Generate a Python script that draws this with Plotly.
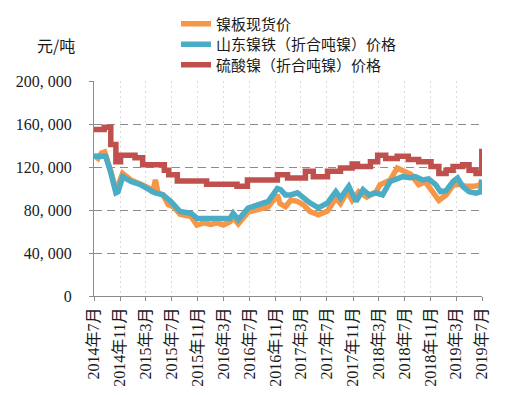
import plotly.graph_objects as go

# ---------------- data ----------------
tick_dates = ["2014-07-01", "2014-11-01", "2015-03-01", "2015-07-01", "2015-11-01",
              "2016-03-01", "2016-07-01", "2016-11-01", "2017-03-01", "2017-07-01",
              "2017-11-01", "2018-03-01", "2018-07-01", "2018-11-01", "2019-03-01",
              "2019-07-01"]
tick_labels = ["2014年7月", "2014年11月", "2015年3月", "2015年7月", "2015年11月",
               "2016年3月", "2016年7月", "2016年11月", "2017年3月", "2017年7月",
               "2017年11月", "2018年3月", "2018年7月", "2018年11月", "2019年3月",
               "2019年7月"]
y_ticks = [0, 40000, 80000, 120000, 160000, 200000]
y_tick_labels = ["0", "40, 000", "80, 000", "120, 000", "160, 000", "200, 000"]

series_names = ["镍板现货价", "山东镍铁（折合吨镍）价格", "硫酸镍（折合吨镍）价格"]

# 镍板现货价
orange_dates = ["2014-07-01", "2014-07-20", "2014-08-05", "2014-08-20", "2014-09-18", "2014-10-12",
                "2014-11-13", "2014-12-22", "2015-02-06", "2015-03-20", "2015-04-03", "2015-04-16",
                "2015-04-28", "2015-05-22", "2015-06-15", "2015-07-10", "2015-08-10", "2015-10-01",
                "2015-10-28", "2015-12-01", "2016-01-01", "2016-02-01", "2016-03-01", "2016-04-01",
                "2016-04-16", "2016-05-10", "2016-06-25", "2016-08-22", "2016-09-28", "2016-11-10",
                "2016-11-22", "2016-12-18", "2017-01-12", "2017-02-12", "2017-03-12", "2017-04-12",
                "2017-05-22", "2017-07-04", "2017-08-12", "2017-09-03", "2017-10-05", "2017-10-28",
                "2017-11-28", "2018-01-05", "2018-02-18", "2018-03-08", "2018-04-25", "2018-05-28",
                "2018-07-01", "2018-08-01", "2018-09-06", "2018-10-08", "2018-11-10", "2018-12-10",
                "2019-01-13", "2019-02-15", "2019-03-15", "2019-04-15", "2019-05-20", "2019-06-20",
                "2019-07-01"]
orange_vals = [131000, 128000, 133000, 134000, 116000, 98000,
               114000, 108000, 104000, 100000, 96000, 108000,
               96000, 94000, 85000, 83000, 76000, 74000,
               66000, 68000, 66500, 68000, 66000, 69000,
               73000, 67000, 78000, 81000, 83000, 94000,
               86000, 83000, 89000, 88000, 85000, 78600,
               75500, 79000, 91000, 86000, 97000, 89000,
               97000, 92000, 97000, 103500, 108000, 119000,
               116000, 113000, 103500, 106000, 97000, 89000,
               94000, 103000, 104000, 102000, 102000, 103000,
               108000]

# 山东镍铁（折合吨镍）价格
blue_dates = ["2014-07-01", "2014-08-25", "2014-09-18", "2014-10-12", "2014-10-22", "2014-11-13",
              "2014-12-22", "2015-02-06", "2015-03-20", "2015-04-13", "2015-05-22", "2015-06-28",
              "2015-08-10", "2015-10-01", "2015-10-28", "2016-04-01", "2016-04-16", "2016-05-10",
              "2016-06-25", "2016-08-22", "2016-09-28", "2016-11-10", "2016-11-25", "2016-12-18",
              "2017-01-12", "2017-02-12", "2017-03-12", "2017-04-12", "2017-05-22", "2017-07-04",
              "2017-08-12", "2017-09-03", "2017-10-12", "2017-11-15", "2017-12-18", "2018-01-15",
              "2018-02-18", "2018-03-20", "2018-04-25", "2018-05-10", "2018-06-22", "2018-07-28",
              "2018-08-22", "2018-09-25", "2018-10-22", "2018-11-25", "2018-12-18", "2019-01-13",
              "2019-02-15", "2019-03-08", "2019-04-01", "2019-05-01", "2019-06-03", "2019-06-25",
              "2019-07-01"]
blue_vals = [130000, 130000, 114600, 96000, 97000, 111000,
             106500, 103500, 98800, 96000, 94000, 88000,
             78600, 77000, 72400, 72000, 77000, 71000,
             81700, 84800, 88000, 100000, 99000, 94000,
             94000, 96000, 91000, 86700, 82000, 86700,
             97000, 91000, 102000, 88000, 98800, 94000,
             96000, 94000, 106500, 108000, 111000, 110000,
             111000, 108000, 109000, 103500, 97000, 98000,
             106500, 109700, 102000, 97000, 95700, 97000,
             108000]

# 硫酸镍（折合吨镍）价格
red_dates = ["2014-07-01", "2014-08-18", "2014-09-18", "2014-10-12", "2014-11-03", "2015-01-10",
             "2015-02-15", "2015-05-28", "2015-06-18", "2015-07-28", "2015-12-13", "2016-05-04",
             "2016-06-22", "2016-11-10", "2016-12-28", "2017-03-22", "2017-04-28", "2017-07-04",
             "2017-09-03", "2017-10-28", "2017-11-22", "2018-01-22", "2018-02-25", "2018-04-04",
             "2018-05-28", "2018-07-19", "2018-09-06", "2018-11-03", "2018-12-10", "2019-01-13",
             "2019-02-15", "2019-04-01", "2019-05-01", "2019-06-03", "2019-06-30", "2019-07-01"]
red_vals = [155000, 157000, 141000, 125000, 131000, 128600,
            122000, 117000, 112800, 107000, 104000, 102000,
            108000, 112800, 109700, 116000, 111000, 116000,
            119000, 122700, 120500, 125000, 131000, 128000,
            130000, 127000, 125000, 120500, 114000, 117000,
            120500, 122000, 117000, 114000, 134500, 134500]

colors = ["#F79646", "#4BACC6", "#C0504D"]

# ---------------- figure ----------------
fig = go.Figure()
fig.add_trace(go.Scatter(x=orange_dates, y=orange_vals, name=series_names[0], mode="lines",
                         line=dict(color=colors[0], width=5.5), legend="legend"))
fig.add_trace(go.Scatter(x=blue_dates, y=blue_vals, name=series_names[1], mode="lines",
                         line=dict(color=colors[1], width=5.5), legend="legend2"))
fig.add_trace(go.Scatter(x=red_dates, y=red_vals, name=series_names[2], mode="lines",
                         line=dict(color=colors[2], width=5.5, shape="hv"), legend="legend3"))

num_font = "'Liberation Serif', 'Noto Sans CJK SC', serif"
cjk_font = "'Noto Sans CJK SC', sans-serif"

L, R, T, B = 94, 27, 81, 100
W, H = 509, 396
pw, ph = W - L - R, H - T - B

def px_x(x):
    return (x - L) / pw

def px_y(y):
    return (H - B - y) / ph

def legend_at(row_y):
    return dict(x=px_x(176), y=px_y(row_y), xanchor="left", yanchor="middle",
                font=dict(family=cjk_font, size=15, color="#1a1a1a"),
                bgcolor="rgba(0,0,0,0)")

fig.update_layout(
    width=W, height=H,
    margin=dict(l=L, r=R, t=T, b=B, autoexpand=False),
    paper_bgcolor="white", plot_bgcolor="white",
    showlegend=True,
    legend=legend_at(24),
    legend2=legend_at(44.5),
    legend3=legend_at(65),
    annotations=[dict(text="元/吨", x=px_x(56), y=px_y(45), xref="paper", yref="paper",
                      xanchor="center", yanchor="middle", showarrow=False,
                      font=dict(family=cjk_font, size=16, color="#1a1a1a"))],
)

fig.update_xaxes(
    type="date",
    range=[tick_dates[0], tick_dates[-1]],
    tickmode="array", tickvals=tick_dates, ticktext=tick_labels,
    tickangle=-90,
    tickfont=dict(family=num_font, size=16, color="#1a1a1a"),
    showline=True, linecolor="#8c8c8c", linewidth=1,
    ticks="outside", ticklen=4, tickcolor="#8c8c8c",
    showgrid=True, gridcolor="#dadada", gridwidth=1, griddash="2px,3px",
    zeroline=False,
)
fig.update_yaxes(
    range=[0, 200000],
    tickmode="array", tickvals=y_ticks, ticktext=y_tick_labels,
    tickfont=dict(family=num_font, size=16, color="#1a1a1a"),
    showline=True, linecolor="#8c8c8c", linewidth=1,
    ticks="outside", ticklen=4, tickcolor="#8c8c8c",
    ticklabelstandoff=14,
    showgrid=True, gridcolor="#8c8c8c", gridwidth=1, griddash="8px,5px",
    zeroline=False,
)

fig.write_html("out.html",
               config={"displayModeBar": False},
               post_script="document.body.style.margin='0';document.body.style.overflow='hidden';")
